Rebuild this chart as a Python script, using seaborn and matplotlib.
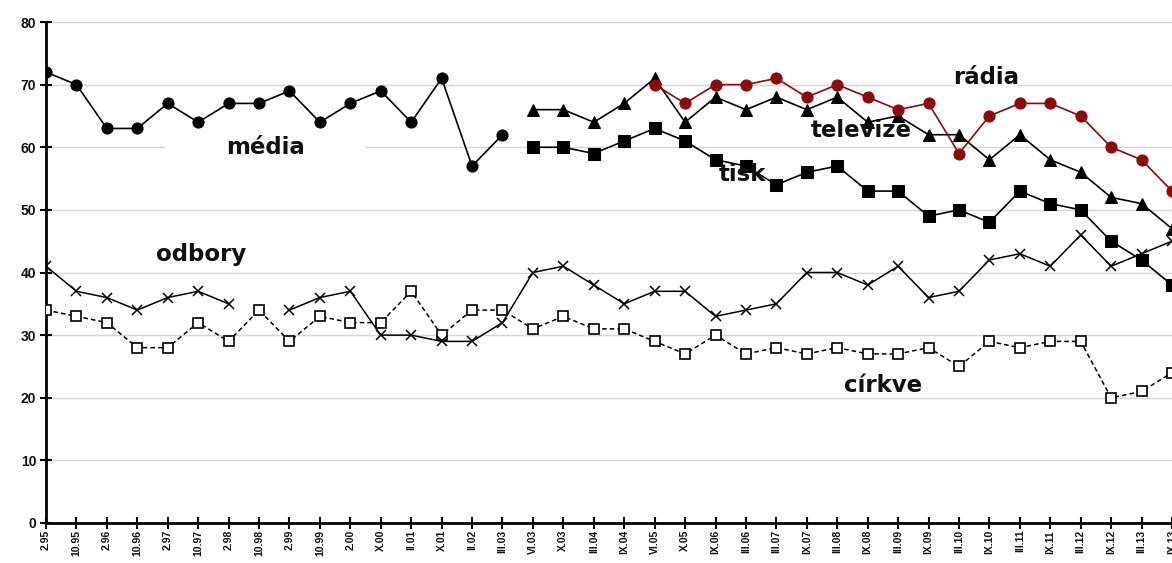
import numpy as np
import pandas as pd
import matplotlib
matplotlib.use("Agg")
import matplotlib.pyplot as plt
import seaborn as sns
from matplotlib.patches import Rectangle

# obdobi setreni
obdobi = ["2.95", "10.95", "2.96", "10.96", "2.97", "10.97", "2.98", "10.98",
          "2.99", "10.99", "2.00", "X.00", "II.01", "X.01", "II.02", "III.03",
          "VI.03", "X.03", "III.04", "IX.04", "VI.05", "X.05", "IX.06", "III.06",
          "III.07", "IX.07", "III.08", "IX.08", "III.09", "IX.09", "III.10", "IX.10",
          "III.11", "IX.11", "III.12", "IX.12", "III.13", "IX.13"]

nan = np.nan
media = [72, 70, 63, 63, 67, 64, 67, 67, 69, 64, 67, 69, 64, 71, 57, 62] + [nan] * 22
televize = [nan] * 16 + [66, 66, 64, 67, 71, 64, 68, 66, 68, 66, 68, 64, 65, 62, 62, 58,
                         62, 58, 56, 52, 51, 47]
radia = [nan] * 20 + [70, 67, 70, 70, 71, 68, 70, 68, 66, 67, 59, 65, 67, 67, 65, 60, 58, 53]
tisk = [nan] * 16 + [60, 60, 59, 61, 63, 61, 58, 57, 54, 56, 57, 53, 53, 49, 50, 48,
                     53, 51, 50, 45, 42, 38]
odbory = [41, 37, 36, 34, 36, 37, 35, nan, 34, 36, 37, 30, 30, 29, 29, 32, 40, 41, 38, 35,
          37, 37, 33, 34, 35, 40, 40, 38, 41, 36, 37, 42, 43, 41, 46, 41, 43, 45]
cirkve = [34, 33, 32, 28, 28, 32, 29, 34, 29, 33, 32, 32, 37, 30, 34, 34, 31, 33, 31, 31,
          29, 27, 30, 27, 28, 27, 28, 27, 27, 28, 25, 29, 28, 29, 29, 20, 21, 24]

x = np.arange(len(obdobi))
df = pd.DataFrame({"x": x, "media": media, "televize": televize, "radia": radia,
                   "tisk": tisk, "odbory": odbory, "cirkve": cirkve})

fig = plt.figure(figsize=(11.72, 5.63), dpi=100)
ax = fig.add_axes([46 / 1172, 40 / 563, 1 - 46 / 1172, 501 / 563])
sns.set_style("white")


def kresli(sloupec, **kw):
    # kresli po souvislych usecich (mezery = NaN)
    d = df[["x", sloupec]].copy()
    d["usek"] = d[sloupec].isna().cumsum()
    d = d.dropna()
    for _, part in d.groupby("usek"):
        sns.lineplot(data=part, x="x", y=sloupec, ax=ax, estimator=None, sort=False,
                     zorder=3, **kw)


kresli("cirkve", color="black", lw=1.1, linestyle=(0, (3, 2)), marker="s",
       markersize=7.5, markerfacecolor="white", markeredgecolor="black", markeredgewidth=1.2)
kresli("odbory", color="black", lw=1.1, marker="x", markersize=7,
       markeredgecolor="black", markeredgewidth=1.1)
kresli("tisk", color="black", lw=1.2, marker="s", markersize=8,
       markerfacecolor="black", markeredgecolor="black")
kresli("televize", color="black", lw=1.2, marker="^", markersize=8.5,
       markerfacecolor="black", markeredgecolor="black")
kresli("radia", color="#8b0a0a", lw=1.2, marker="o", markersize=8,
       markerfacecolor="#8b0a0a", markeredgecolor="#8b0a0a")
kresli("media", color="black", lw=1.2, marker="o", markersize=8,
       markerfacecolor="black", markeredgecolor="black")

ax.set_xlim(0, 37)
ax.set_ylim(0, 80)
ax.set_yticks(range(0, 81, 10))
ax.set_xticks(x)
ax.set_xticklabels(obdobi, rotation=90, fontsize=7.5, fontweight="bold",
                   family="Liberation Sans")
for t in ax.get_yticklabels():
    t.set_fontweight("bold")
    t.set_fontsize(10)
    t.set_family("Liberation Sans")
ax.set_xlabel("")
ax.set_ylabel("")
ax.yaxis.grid(True, color="#d6d6d6", lw=1)
ax.set_axisbelow(True)
for s in ["top", "right"]:
    ax.spines[s].set_visible(False)
for s in ["left", "bottom"]:
    ax.spines[s].set_color("black")
    ax.spines[s].set_linewidth(2)
ax.tick_params(axis="both", direction="inout", length=8, width=1.5, color="black",
               labelcolor="#111111", pad=3)
ax.tick_params(axis="x", pad=1)

# popisky s bilym podkladem (prerusuji mrizku)
popisky = [("média", 7.2, 60, 3.9, 10.5), ("odbory", 5.1, 42.8, 2.7, 7.6),
           ("církve", 27.5, 22.0, 25.2, 29.8), ("rádia", 30.9, 71.2, 29.9, 31.9),
           ("televize", 26.8, 62.7, 25.2, 28.4), ("tisk", 22.9, 55.6, 22.1, 23.7)]
for txt, tx, ty, x0, x1 in popisky:
    if txt in ("média", "odbory", "církve", "rádia"):
        ax.add_patch(Rectangle((x0, ty - 1.8), x1 - x0, 3.6, facecolor="white",
                               edgecolor="none", zorder=1))
    ax.text(tx, ty, txt, ha="center", va="center", fontsize=16.5, fontweight="bold",
            family="DejaVu Sans", color="#111111", zorder=5)

fig.savefig("out.png", dpi=100)
